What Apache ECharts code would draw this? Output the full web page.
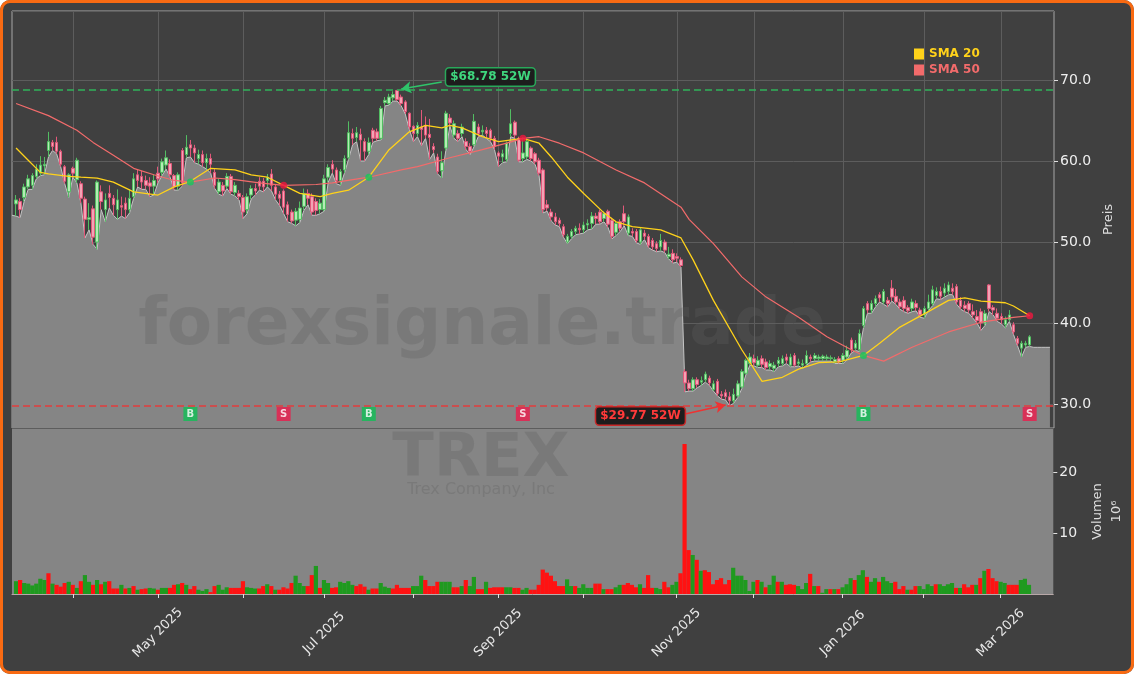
<!DOCTYPE html>
<html><head><meta charset="utf-8">
<script src="https://cdn.jsdelivr.net/npm/echarts@6/dist/echarts.min.js"></script>
<style>
html,body{margin:0;padding:0;background:#ffffff;}
#wrap{position:relative;width:1134px;height:674px;}
#c{width:1134px;height:674px;background:#404040;border-radius:10px;}
#frame{position:absolute;left:0;top:0;width:1134px;height:674px;box-sizing:border-box;border:3px solid #f96a12;border-radius:10px;pointer-events:none;}
</style>
</head><body>
<div id="wrap"><div id="c"></div><div id="frame"></div></div>
<script>
// ---------- data ----------
const startDate = '2025-03-12';
const holidays = ['2025-04-18','2025-05-26','2025-06-19','2025-07-04','2025-09-01','2025-11-27','2025-12-25','2026-01-01','2026-01-19','2026-02-16'];
const nDays = 251, nPad = 6;
const monthNames = ['Jan','Feb','Mar','Apr','May','Jun','Jul','Aug','Sep','Oct','Nov','Dec'];

const open = [
54.7,55.0,55.5,56.8,57.0,58.1,58.5,59.4,61.3,62.3,
62.3,61.2,59.3,56.2,59.1,57.7,57.2,55.3,52.8,54.1,
50.0,56.2,54.0,56.0,55.4,54.0,54.5,54.8,54.0,55.6,
58.3,58.1,57.6,57.3,56.9,58.5,58.6,59.5,59.7,58.2,
56.9,61.3,60.8,62.0,61.6,60.3,60.8,59.8,60.3,58.6,
56.2,57.0,56.9,58.1,56.1,56.0,55.5,54.0,55.8,56.6,
57.5,57.5,57.6,58.4,56.8,55.9,56.3,54.6,53.7,52.7,
52.8,54.4,56.0,55.6,55.0,54.0,54.0,58.0,59.6,58.9,
57.6,58.9,60.4,63.4,62.9,63.3,62.4,61.2,63.8,63.6,
62.8,67.2,67.1,67.8,68.7,67.9,67.3,65.9,64.3,63.4,
64.2,64.4,63.3,61.8,60.5,58.8,61.6,65.3,63.2,63.4,
63.4,62.4,61.8,62.0,64.2,63.6,63.8,63.8,62.8,61.0,
60.5,60.2,63.4,64.8,62.8,60.3,60.5,61.6,60.9,60.1,
58.9,54.6,53.7,53.1,52.7,51.9,50.0,50.7,51.3,51.7,
51.5,52.1,52.3,53.2,53.7,52.9,53.8,52.7,51.2,52.5,
53.5,51.1,51.3,51.3,50.0,51.1,50.7,50.2,49.8,49.4,
50.0,48.2,48.6,48.2,47.8,34.0,32.6,31.9,33.0,32.7,
33.0,33.2,31.8,32.8,31.2,31.4,30.9,30.4,31.0,32.1,
33.8,35.0,35.6,34.8,35.6,35.2,34.6,34.4,35.0,35.0,
35.8,34.8,36.0,35.0,34.8,35.0,35.8,35.6,35.6,35.6,
35.6,35.6,35.2,35.6,35.4,35.8,37.9,36.9,36.7,39.7,
42.4,41.6,42.4,43.5,42.6,42.8,44.3,43.3,42.6,42.8,
41.9,41.8,42.4,41.6,41.0,41.8,42.4,43.4,43.9,43.7,
43.9,44.3,44.5,42.8,42.2,42.4,41.4,40.8,41.4,40.0,
44.7,41.9,41.2,40.8,39.8,40.4,39.8,38.1,36.9,37.3,
37.3];
const close = [
55.2,54.0,56.8,57.8,58.2,59.0,59.5,59.6,62.4,61.8,
61.2,59.6,57.5,58.3,58.5,60.1,55.4,52.8,53.0,50.6,
57.4,55.0,55.2,55.5,54.6,55.2,54.3,54.0,55.4,57.8,
57.6,57.4,57.0,56.9,57.6,57.8,59.9,60.4,58.3,56.8,
58.3,57.3,61.7,61.6,61.0,60.8,59.8,60.3,59.6,57.0,
57.4,56.3,58.1,56.2,57.0,55.6,53.7,55.6,56.6,56.3,
56.9,56.8,58.0,57.0,55.9,55.4,54.3,53.4,52.6,53.8,
54.2,56.0,55.4,53.7,53.9,54.8,57.8,59.2,59.0,57.6,
58.7,60.3,63.5,62.8,63.5,62.6,61.2,62.3,62.8,62.8,
66.5,67.5,67.9,68.2,67.6,67.1,66.1,64.2,63.4,64.4,
63.9,63.2,62.9,61.4,58.7,59.8,65.9,64.7,64.6,62.8,
64.2,61.8,61.2,64.9,63.4,63.8,63.4,62.8,61.8,60.6,
60.9,62.2,64.6,63.2,60.1,61.0,62.4,60.3,59.9,58.5,
54.0,54.2,53.1,52.5,52.3,50.9,50.7,51.3,51.7,51.5,
52.1,52.3,53.2,52.9,52.5,53.5,52.2,50.7,52.3,51.7,
52.5,53.1,51.1,50.2,51.5,50.7,49.6,49.4,49.2,50.2,
49.0,48.5,47.8,48.0,47.1,32.6,31.9,33.0,32.4,32.9,
33.7,32.6,32.5,31.3,31.0,30.9,30.4,31.2,32.5,34.0,
35.4,35.8,35.1,35.4,34.9,34.5,35.0,34.8,35.4,35.6,
35.4,35.8,34.8,35.2,35.0,36.0,35.6,36.0,35.8,35.9,
35.8,35.7,35.5,35.2,36.0,36.6,36.7,37.5,38.7,41.8,
41.6,42.4,43.0,43.1,43.9,42.4,43.2,42.6,42.0,41.8,
41.5,42.6,41.9,41.0,41.8,42.6,44.1,43.9,43.3,44.3,
44.7,43.9,42.6,42.0,41.8,41.6,41.0,40.3,40.0,41.2,
41.8,41.6,40.6,40.4,40.4,41.0,38.9,37.5,37.5,37.5,
38.3];
const low = [
53.2,53.0,55.0,56.5,56.5,57.8,58.2,58.3,60.5,61.3,
60.9,59.3,57.2,55.5,58.0,57.3,54.8,50.5,51.5,49.7,
49.1,54.0,52.5,54.2,53.3,52.8,53.2,52.9,53.6,55.4,
56.8,56.5,56.5,55.6,55.8,57.3,58.2,59.0,58.0,56.4,
56.4,56.9,60.4,60.5,59.8,59.6,59.3,59.0,58.5,56.6,
55.9,55.7,56.6,55.9,55.7,55.2,52.9,53.5,55.3,55.8,
56.4,56.2,56.8,56.3,55.2,54.5,53.5,52.5,52.3,52.0,
52.4,53.9,54.6,53.3,53.3,53.5,53.8,57.4,58.5,57.2,
57.0,58.5,60.2,62.0,62.4,60.0,60.0,60.8,62.3,62.5,
62.6,66.8,66.9,67.4,67.4,66.8,65.8,63.9,62.4,63.0,
61.9,62.8,60.2,61.0,58.4,57.9,61.3,64.3,62.8,62.4,
63.0,61.4,60.8,61.8,63.0,63.2,62.8,62.4,61.4,59.3,
59.8,59.9,63.0,62.8,59.9,59.9,60.2,60.0,59.6,58.2,
53.6,53.8,52.6,52.1,51.9,50.6,49.8,50.4,50.9,51.0,
51.1,51.5,51.6,52.2,52.2,52.5,51.8,50.4,50.8,51.3,
52.0,50.8,50.7,49.9,49.7,50.3,49.3,49.0,48.8,48.9,
48.7,47.9,47.4,47.5,46.9,31.5,31.6,31.6,32.0,32.3,
32.7,32.3,31.6,31.0,30.6,30.5,29.77,30.1,30.8,31.9,
33.6,34.8,34.7,34.5,34.5,34.2,34.2,34.0,34.6,34.7,
35.0,34.6,34.6,34.7,34.4,34.8,35.2,35.3,35.3,35.3,
35.3,35.3,35.0,35.0,35.0,35.5,36.3,36.6,36.5,39.4,
41.2,41.2,42.0,42.6,42.3,42.0,42.7,42.3,41.7,41.4,
41.2,41.4,41.5,40.7,40.6,41.5,42.1,43.0,42.9,43.2,
43.5,43.5,42.3,41.7,41.4,41.2,40.6,40.0,39.1,39.7,
41.4,41.0,40.2,39.9,39.4,40.2,38.6,37.2,35.8,37.0,
37.1];
const high = [
55.8,55.4,57.2,58.3,58.5,59.6,60.6,60.5,63.6,62.6,
63.0,61.4,59.5,58.5,59.3,60.4,57.5,55.6,54.8,54.5,
57.6,57.0,56.0,57.0,55.8,56.5,55.6,55.5,56.5,58.5,
59.0,58.8,58.2,58.0,58.3,59.3,60.3,61.3,60.2,58.4,
58.6,61.6,63.2,62.6,62.0,61.4,61.3,60.9,60.9,59.0,
57.8,57.4,58.5,58.4,57.4,56.4,55.8,56.0,57.0,57.2,
58.0,57.9,58.4,59.0,57.1,56.3,56.5,55.0,54.0,54.2,
55.0,56.6,56.5,56.0,55.4,55.3,58.3,59.6,60.1,59.2,
59.0,60.7,64.9,64.0,64.2,64.0,62.8,62.9,64.1,64.0,
66.8,67.9,68.3,68.6,68.78,68.2,67.5,66.0,64.4,64.8,
66.3,65.5,65.2,62.2,60.9,61.2,66.2,65.8,65.0,63.8,
64.6,62.8,62.2,65.8,64.6,64.4,64.2,64.0,63.1,61.2,
61.4,62.4,66.4,65.0,63.0,62.9,62.8,61.8,61.1,60.4,
59.1,55.2,54.1,53.6,53.0,52.2,51.0,51.6,52.0,52.3,
52.5,52.8,53.7,53.6,54.0,53.8,54.0,53.0,52.6,52.8,
54.5,53.4,51.7,51.6,51.8,51.5,51.0,50.5,50.1,51.0,
50.3,49.4,49.1,48.6,48.1,34.3,33.0,33.3,33.3,33.4,
34.0,33.5,32.9,33.1,31.6,31.8,31.5,31.9,32.9,34.3,
35.6,36.3,36.1,35.9,36.0,35.6,35.4,35.2,35.8,36.0,
36.2,36.2,36.3,35.6,35.5,36.6,36.1,36.3,36.1,36.1,
36.1,36.0,35.8,35.9,36.3,37.2,38.2,37.9,39.2,42.1,
42.7,42.8,43.4,43.8,44.2,43.2,45.3,44.2,43.0,43.3,
42.2,43.0,42.8,41.9,42.1,43.5,44.6,44.4,44.5,44.9,
45.1,44.9,44.8,43.2,42.7,42.7,42.3,41.6,41.8,41.6,
44.8,42.2,41.8,41.2,40.8,41.6,40.1,38.4,37.8,37.8,
38.5];
// volume in millions
const volume = [
2.1,2.3,1.8,1.7,1.4,1.7,2.5,2.3,3.4,1.7,
1.5,1.2,1.8,2.0,1.5,1.0,2.1,3.1,2.0,1.5,
2.3,1.6,2.0,2.1,0.9,0.9,1.5,0.9,1.0,1.3,
0.7,0.8,0.9,1.0,0.9,0.7,1.0,1.0,1.0,1.5,
1.6,1.8,1.5,0.8,1.3,0.7,0.5,0.8,0.3,1.3,
1.5,0.7,1.1,1.0,1.0,1.0,2.1,1.1,1.0,0.9,
0.9,1.3,1.6,1.3,0.7,0.7,1.1,0.9,1.8,3.0,
1.8,1.3,1.3,3.1,4.6,1.0,2.3,1.8,1.0,1.1,
2.0,1.8,2.1,1.5,1.3,1.6,1.2,0.7,0.9,0.9,
1.8,1.2,1.0,0.9,1.5,1.0,1.0,1.0,1.3,1.3,
3.0,2.3,1.3,1.3,2.0,2.0,2.0,2.0,1.1,1.1,
1.3,2.3,1.3,2.8,0.8,0.8,2.0,1.0,1.1,1.1,
1.1,1.1,1.1,1.0,1.0,0.7,1.0,0.7,0.7,1.5,
4.0,3.5,3.0,2.1,1.3,1.3,2.4,1.3,1.3,1.0,
1.6,1.0,1.0,1.7,1.7,0.8,0.8,0.8,1.1,1.5,
1.5,1.8,1.5,1.1,1.6,1.0,3.1,1.0,1.0,0.8,
2.0,1.1,1.5,2.0,3.4,24.6,7.2,6.4,5.6,3.8,
3.9,3.6,1.6,2.3,2.6,1.6,2.3,4.3,3.0,3.0,
2.3,0.5,2.0,2.3,2.0,1.1,1.5,3.0,2.0,2.0,
1.5,1.6,1.5,1.3,0.8,1.8,3.3,1.3,1.3,0.2,
0.8,0.8,0.8,0.8,1.1,1.6,2.6,2.3,3.1,3.9,
2.8,2.0,2.6,2.0,2.8,2.1,1.8,2.0,0.8,1.3,
0.7,0.7,1.3,1.3,0.8,1.6,1.3,1.6,1.6,1.3,
1.6,1.8,1.0,1.0,1.6,1.1,1.5,1.5,2.6,3.8,
4.1,2.6,2.1,2.0,1.8,1.5,1.5,1.5,2.3,2.5,
1.5];
// G = green bar, R = red bar
const volDir =
 'GRGGGGGGRG'+'RRRGRGRGGR'+'GRGRRRGRGR'+'GRRGGRGGRR'+'GRGRRGGGRR'+
 'GGGRRRRGGG'+'RRGRGRRRRG'+'GGRRGRGGRR'+'GGGGRRRGRR'+'GGGRR'+
 'RRRGGGRRRR'+'GGGRRGRGGR'+'RGRRRRGGRR'+'GGRRRRRRRR'+'RGGRGGGGRR'+
 'GRRGGRRRRG'+'RRRGGRRGGR'+'RRGRGRRRRR'+'RRGGGGGGRG'+'RGGRGRRRGG'+
 'GRGRGGRGRG'+'GGRGGRGGRG'+'GGRRRGRRGG'+'GGRGGGGRGR'+'RRGRGRRRGG'+'RRRGGG';

// moving averages: [trading-day index, value]
const sma20 = [[0,61.6],[3,60.1],[6,58.6],[8,58.4],[13,58.1],[16,58.0],[20,57.9],[24,57.4],[29,56.2],[35,55.8],[39,56.8],[43,57.5],[48,59.1],[54,58.9],[58,58.3],[62,58.0],[66,57.0],[70,56.0],[75,55.6],[78,56.0],[82,56.4],[87,58.0],[92,61.4],[97,63.6],[101,64.4],[105,64.1],[107,64.4],[110,64.1],[115,63.0],[119,62.4],[125,62.8],[129,62.2],[132,60.5],[136,58.0],[140,56.0],[145,53.6],[148,52.5],[152,51.9],[159,51.5],[164,50.5],[167,47.8],[172,42.8],[179,36.7],[184,32.8],[189,33.3],[193,34.3],[198,35.1],[203,35.2],[209,36.0],[213,37.5],[218,39.5],[225,41.4],[230,42.8],[234,43.1],[238,42.7],[244,42.5],[246,42.1],[250,40.9]];
const sma50 = [[0,67.1],[8,65.6],[15,63.8],[19,62.3],[24,60.7],[29,59.1],[34,58.3],[39,57.6],[43,57.4],[49,57.9],[54,57.7],[60,57.3],[66,57.0],[74,57.1],[78,57.3],[87,58.0],[95,58.9],[99,59.3],[107,60.4],[115,61.4],[121,62.2],[125,62.8],[129,63.0],[134,62.2],[140,61.0],[148,58.9],[155,57.3],[164,54.3],[166,52.8],[172,49.8],[179,45.7],[185,43.2],[193,40.7],[200,38.3],[206,36.7],[209,36.0],[214,35.3],[221,37.0],[230,38.9],[238,40.1],[246,40.7],[250,40.9]];

const signalIdx = [43,66,87,125,209,250];
const signalType = ['B','S','B','S','B','S'];
const crossVal = [57.4,57.0,58.0,62.8,36.0,40.9];
const signalLevel = 28.77;

const high52 = 68.78, low52 = 29.77;
const high52Idx = 95, low52Idx = 175;
const areaLead = [53.3];
const areaTail = [37.0,37.0,37.0,37.0,37.0];

// ---------- categories ----------
function buildDays(start, count){
  const out=[]; let d=new Date(start+'T00:00:00Z');
  while(out.length<count){
    const wd=d.getUTCDay(); const s=d.toISOString().slice(0,10);
    if(wd!==0 && wd!==6 && holidays.indexOf(s)<0) out.push(s);
    d=new Date(d.getTime()+86400000);
  }
  return out;
}
const dates = buildDays(startDate, nDays + nPad);
const cats = [''].concat(dates);
function isMonthStart(k){ return k>=2 && cats[k] && cats[k].slice(0,7)!==cats[k-1].slice(0,7); }
function isLabelMonth(k){ if(!isMonthStart(k)) return false; const m=+cats[k].slice(5,7); return (m-1)%2===0; }

const FONT='DejaVu Sans';
const chart = echarts.init(document.getElementById('c'), null, {renderer:'canvas'});

const candleData = open.map((o,i)=>[i+1, o, close[i], low[i], high[i]]);
const areaData = areaLead.concat(low, areaTail);
const volData = volume.map((v,i)=>({value:[i+1, v], itemStyle:{color: volDir[i]==='G' ? '#1f9a1f' : '#ff1212'}}));

const option = {
  animation:false,
  backgroundColor:'transparent',
  textStyle:{fontFamily:FONT},
  legend:{
    data:[{name:'SMA 20', textStyle:{color:'#ffd21a'}},{name:'SMA 50', textStyle:{color:'#f26b6b'}}],
    orient:'vertical', left:914, top:48, icon:'rect', itemWidth:10, itemHeight:11, itemGap:4, padding:0,
    textStyle:{fontFamily:FONT, fontWeight:'bold', fontSize:12}
  },
  grid:[
    {left:12, top:11, width:1042, height:417, show:true, borderColor:'#a6a6a6', borderWidth:1, backgroundColor:'transparent'},
    {left:12, top:429, width:1042, height:165, show:true, borderWidth:0, backgroundColor:'#858585'}
  ],
  xAxis:[
    {type:'category', gridIndex:0, data:cats, boundaryGap:false,
     axisLine:{show:false}, axisTick:{show:false}, axisLabel:{show:false},
     splitLine:{show:true, interval:(k)=>isMonthStart(k), lineStyle:{color:'#5d5d5d', width:1}}},
    {type:'category', gridIndex:1, data:cats, boundaryGap:false,
     axisLine:{show:true, lineStyle:{color:'#b8a8a8'}},
     axisTick:{show:true, interval:(k)=>isMonthStart(k), length:4, lineStyle:{color:'#e0e0e0'}},
     axisLabel:{show:true, interval:(k)=>isLabelMonth(k), rotate:45, align:'center', verticalAlign:'middle', color:'#e8e8e8', fontSize:13, fontFamily:FONT, margin:39,
       formatter:(v)=>{ if(!v) return ''; const m=+v.slice(5,7); return monthNames[m-1]+' '+v.slice(0,4); }},
     splitLine:{show:false}}
  ],
  yAxis:[
    {type:'value', gridIndex:0, position:'right', min:27.04, max:78.52, splitNumber:5, minInterval:10, maxInterval:10,
     axisLine:{show:false}, axisTick:{show:true, length:4, lineStyle:{color:'#e0e0e0'}},
     axisLabel:{color:'#eeeeee', fontSize:14, fontFamily:FONT, margin:6, showMinLabel:false, showMaxLabel:false, formatter:(v)=>v.toFixed(1)},
     splitLine:{show:true, lineStyle:{color:'#5d5d5d', width:1}},
     name:'Preis', nameLocation:'middle', nameRotate:90, nameGap:44, nameTextStyle:{color:'#dddddd', fontSize:13, fontFamily:FONT}},
    {type:'value', gridIndex:1, position:'right', min:0, max:27.05, interval:10,
     axisLine:{show:false}, axisTick:{show:true, length:4, lineStyle:{color:'#e0e0e0'}},
     axisLabel:{color:'#eeeeee', fontSize:14, fontFamily:FONT, margin:6, showMinLabel:false, showMaxLabel:false},
     splitLine:{show:false},
     name:'Volumen\n10\u2076', nameLocation:'middle', nameRotate:90, nameGap:32, nameTextStyle:{color:'#dddddd', fontSize:13, fontFamily:FONT, lineHeight:19}}
  ],
  graphic:[
    {type:'text', z:2, silent:true, style:{text:'forexsignale.trade', x:482, y:327, align:'center', verticalAlign:'middle', font:'bold 66px "DejaVu Sans"', fill:'rgba(96,96,96,0.3)'}},
    {type:'text', z:2, silent:true, style:{text:'TREX', x:481, y:460, align:'center', verticalAlign:'middle', font:'bold 61px "DejaVu Sans"', fill:'rgba(96,96,96,0.3)'}},
    {type:'text', z:2, silent:true, style:{text:'Trex Company, Inc', x:481, y:490, align:'center', verticalAlign:'middle', font:'16px "DejaVu Sans"', fill:'rgba(96,96,96,0.3)'}}
  ],
  series:[
    {name:'Low', type:'line', xAxisIndex:0, yAxisIndex:0, data:areaData, symbol:'none', z:1, silent:true,
     lineStyle:{color:'#c4c4c4', width:1}, areaStyle:{color:'#858585', opacity:1, origin:'start'},
     markLine:{silent:true, symbol:'none', label:{show:false},
       data:[{yAxis:high52, lineStyle:{color:'#2fb35a', type:[7,4], width:1.6}},
             {yAxis:low52, lineStyle:{color:'#e23c3c', type:[7,4], width:1.6}}]}},
    {name:'Kurs', type:'candlestick', xAxisIndex:0, yAxisIndex:0, data:candleData, encode:{x:0, y:[1,2,3,4]}, z:3, barWidth:3,
     itemStyle:{color:'#b4ecb4', color0:'#f3a3b5', borderColor:'#52bd62', borderColor0:'#e2587a', borderWidth:1}},
    {name:'SMA 20', type:'line', xAxisIndex:0, yAxisIndex:0, data:sma20.map(([i,v])=>[i+1,v]), symbol:'none', z:4,
     itemStyle:{color:'#ffd21a'}, lineStyle:{color:'#ffd21a', width:1.3}},
    {name:'SMA 50', type:'line', xAxisIndex:0, yAxisIndex:0, data:sma50.map(([i,v])=>[i+1,v]), symbol:'none', z:4,
     itemStyle:{color:'#f26b6b'}, lineStyle:{color:'#f26b6b', width:1.2}},
    {name:'Signals', type:'scatter', xAxisIndex:0, yAxisIndex:0, z:5, symbol:'rect', symbolSize:14,
     data:signalIdx.map((i,k)=>({value:[i+1, signalLevel], itemStyle:{color: signalType[k]==='B' ? '#0fbf55' : '#ec1a4b'},
       label:{show:true, formatter:signalType[k], position:'inside', color:'#ffffff', fontSize:10, fontWeight:'bold', fontFamily:FONT}}))},
    {name:'Cross', type:'scatter', xAxisIndex:0, yAxisIndex:0, z:6, symbol:'circle', symbolSize:7,
     data:signalIdx.map((i,k)=>({value:[i+1, crossVal[k]], itemStyle:{color: signalType[k]==='B' ? '#14c85a' : '#f0163f'}})),
     markLine:{silent:true, symbol:['none','arrow'], symbolSize:[9,10], label:{show:false},
       data:[
         [{coord:[high52Idx+11, 69.75], lineStyle:{color:'#2fc46a', width:1.6, type:'solid'}}, {coord:[high52Idx+1, 68.9]}],
         [{coord:[low52Idx-9, 28.77], lineStyle:{color:'#ef3232', width:1.6, type:'solid'}}, {coord:[low52Idx+1, 29.88]}]
       ]},
     markPoint:{silent:true, symbol:'rect', symbolSize:1, itemStyle:{color:'transparent'},
       data:[
         {coord:[high52Idx+23, 70.37], label:{show:true, position:'inside', formatter:'$'+high52.toFixed(2)+' 52W', color:'#3fd67e', fontWeight:'bold', fontSize:12, fontFamily:FONT,
           backgroundColor:'#1d1d1d', borderColor:'#29a85a', borderWidth:1.5, borderRadius:3, padding:[3,4,2,4]}},
         {coord:[low52Idx-20, 28.52], label:{show:true, position:'inside', formatter:'$'+low52.toFixed(2)+' 52W', color:'#ff3a3a', fontWeight:'bold', fontSize:12, fontFamily:FONT,
           backgroundColor:'#1d1d1d', borderColor:'#c82828', borderWidth:1.5, borderRadius:3, padding:[3,4,2,4]}}
       ]}},
    {name:'Volumen', type:'bar', xAxisIndex:1, yAxisIndex:1, data:volData, barWidth:4.2, z:3}
  ]
};
chart.setOption(option);
</script>
</body></html>
